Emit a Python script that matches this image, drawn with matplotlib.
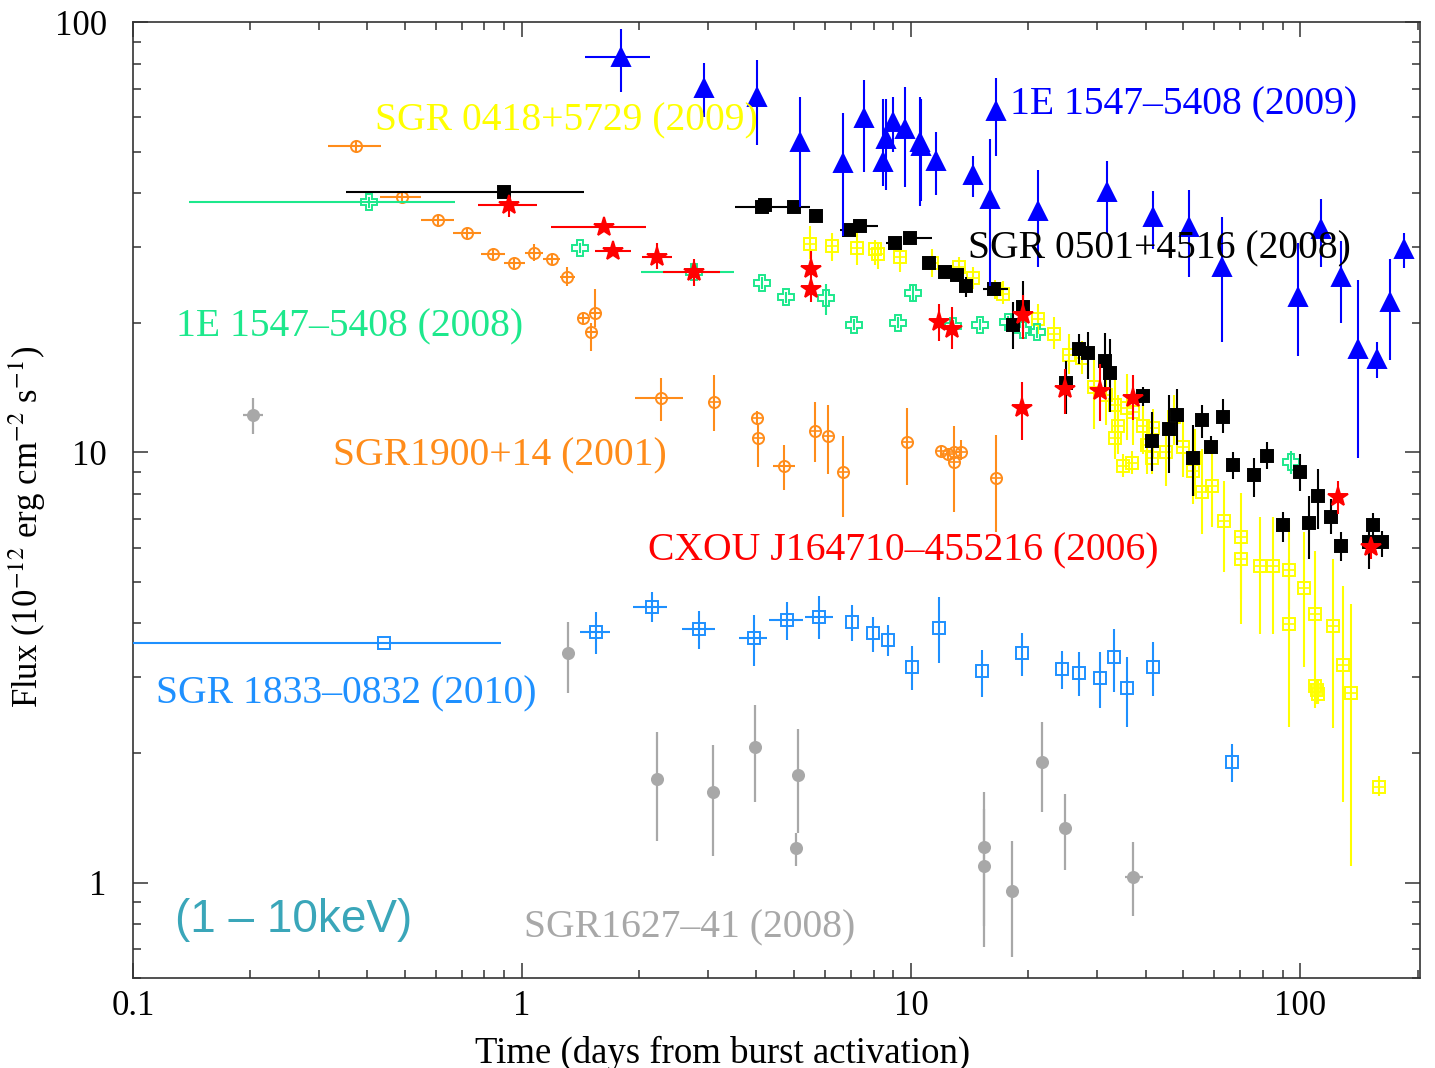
import numpy as np
import matplotlib
matplotlib.use("Agg")
import matplotlib.pyplot as plt
from matplotlib.ticker import LogLocator, NullFormatter, FuncFormatter

plt.rcParams["font.family"] = ["Liberation Serif", "DejaVu Serif"]
plt.rcParams["mathtext.fontset"] = "stix"

# SGR1900+14 (2001), orange
ox = [0.375, 0.49, 0.608, 0.722, 0.842, 0.954, 1.07, 1.19, 1.305, 1.43, 1.54, 1.50, 2.28, 3.12,
      4.02, 4.04, 4.72, 5.66, 6.12, 6.69, 9.77, 11.9, 12.4, 12.9, 12.9, 13.4, 16.5]
oy = [51.4, 39.1, 34.6, 32.3, 28.9, 27.5, 29.1, 28.1, 25.6, 20.5, 21.1, 19.0, 13.4, 13.1,
      12.0, 10.8, 9.28, 11.2, 10.9, 8.99, 10.55, 10.05, 9.9, 10.0, 9.48, 10.0, 8.70]
oy_lo = [50.0, 38.2, 33.8, 31.5, 28.2, 26.8, 27.8, 27.3, 24.3, 19.8, 19.5, 17.2, 11.8, 11.2,
         11.6, 9.23, 8.16, 9.48, 8.89, 7.06, 8.38, 9.8, 9.65, 9.75, 7.25, 9.6, 6.52]
oy_hi = [52.8, 40.0, 35.4, 33.1, 29.6, 28.2, 30.4, 28.9, 26.9, 21.2, 23.9, 20.0, 14.9, 15.1,
         12.5, 11.6, 10.4, 13.1, 12.9, 10.9, 12.7, 10.3, 10.15, 10.25, 11.5, 10.7, 10.95]
ox_lo = [0.317, 0.431, 0.55, 0.665, 0.784, 0.899, 1.018, 1.132, 1.25, 1.38, 1.49, 1.45, 1.95, 3.12,
         4.02, 4.04, 4.42, 5.66, 6.12, 6.69, 9.77, 11.9, 12.4, 12.9, 12.9, 13.4, 16.5]
ox_hi = [0.434, 0.55, 0.668, 0.784, 0.904, 1.018, 1.132, 1.25, 1.37, 1.48, 1.60, 1.56, 2.59, 3.12,
         4.02, 4.04, 5.03, 5.66, 6.12, 6.69, 9.77, 11.9, 12.4, 12.9, 12.9, 13.4, 16.5]

# CXOU J164710-455216 (2006), red
rx = [0.926, 1.62, 1.71, 2.22, 2.77, 5.53, 5.53, 11.8, 12.7, 19.4, 19.3, 24.9, 30.6, 37.2, 125, 152]
ry = [37.5, 33.3, 29.3, 28.5, 26.3, 26.6, 24.0, 20.1, 19.3, 20.8, 12.7, 14.0, 13.9, 13.4, 7.86, 6.02]
ry_lo = [35.2, 32.5, 28.6, 26.6, 24.3, 25.2, 22.4, 18.1, 17.4, 18.3, 10.7, 12.3, 11.8, 11.9, 7.18, 5.64]
ry_hi = [39.5, 34.1, 30.0, 30.6, 28.1, 29.3, 25.2, 22.1, 21.8, 23.2, 14.6, 15.6, 16.0, 15.1, 8.56, 6.25]
rx_lo = [0.771, 1.187, 1.54, 2.03, 2.30, 5.53, 5.53, 11.8, 12.7, 19.4, 19.3, 24.9, 30.6, 37.2, 125, 152]
rx_hi = [1.093, 2.08, 1.90, 2.43, 3.23, 5.53, 5.53, 11.8, 12.7, 19.4, 19.3, 24.9, 30.6, 37.2, 125, 152]

# 1E 1547-5408 (2008), green
gx = [0.404, 1.41, 2.77, 4.14, 4.77, 6.05, 7.14, 9.26, 10.1, 12.8, 15.0, 17.7, 19.4, 21.1, 94.3]
gy = [38.1, 29.8, 26.3, 24.8, 22.9, 22.8, 19.8, 20.0, 23.5, 19.7, 19.8, 20.1, 19.2, 19.0, 9.48]
gy_lo = [37.0, 29.0, 25.5, 24.0, 22.2, 20.9, 19.2, 19.4, 22.3, 19.1, 19.2, 19.5, 18.6, 18.4, 8.89]
gy_hi = [39.2, 30.6, 27.1, 25.6, 23.6, 24.6, 20.4, 20.6, 24.6, 20.3, 20.4, 20.7, 19.8, 19.6, 10.05]
gx_lo = [0.139, 1.41, 2.02, 4.14, 4.77, 6.05, 7.14, 9.26, 10.1, 12.8, 15.0, 17.7, 19.4, 21.1, 94.3]
gx_hi = [0.673, 1.41, 3.51, 4.14, 4.77, 6.05, 7.14, 9.26, 10.1, 12.8, 15.0, 17.7, 19.4, 21.1, 94.3]

# SGR 0501+4516 (2008), black
bx = [0.899, 4.14, 4.21, 5.0, 5.70, 6.93, 7.39, 9.10, 9.94, 11.1, 12.2, 13.1, 13.8, 16.3, 18.3,
      19.4, 25.0, 27.0, 28.5, 31.5, 32.5, 39.3, 41.6, 46.0, 48.3, 53.1, 56.0, 59.0, 63.4, 67.3,
      76.2, 82.3, 90.4, 100, 105, 111, 120, 127, 150, 154, 162]
by = [40.2, 37.1, 37.5, 37.1, 35.5, 32.8, 33.5, 30.7, 31.4, 27.5, 26.3, 25.8, 24.3, 24.0, 19.8,
      21.7, 14.5, 17.4, 17.0, 16.3, 15.3, 13.5, 10.6, 11.3, 12.2, 9.7, 11.9, 10.3, 12.1, 9.33,
      8.85, 9.79, 6.77, 8.99, 6.84, 7.90, 7.06, 6.05, 6.18, 6.77, 6.18]
by_lo = [40.2, 37.1, 37.5, 37.1, 35.5, 32.8, 33.5, 30.7, 31.4, 27.0, 25.8, 25.2, 23.0, 23.4, 17.4,
         19.3, 12.3, 16.0, 14.8, 13.9, 12.4, 12.8, 9.03, 8.94, 10.4, 7.90, 10.8, 9.9, 11.1, 8.66,
         7.86, 9.13, 6.18, 8.12, 5.64, 6.63, 6.45, 5.59, 5.35, 6.13, 5.70]
by_hi = [40.2, 37.1, 37.5, 37.1, 35.5, 32.8, 33.5, 30.7, 31.4, 28.0, 26.8, 26.4, 25.5, 24.6, 22.3,
         25.0, 16.3, 18.8, 19.0, 18.9, 18.3, 14.2, 12.4, 13.6, 14.0, 11.6, 12.9, 10.9, 13.3, 10.0,
         9.7, 10.55, 7.28, 9.9, 7.90, 9.13, 7.78, 6.52, 6.91, 7.21, 6.56]
bx_lo = [0.353, 3.53, 4.21, 4.52, 5.70, 6.57, 7.10, 8.62, 9.94, 11.1, 12.2, 13.1, 13.8, 15.3, 18.3,
         19.4, 25.0, 27.0, 28.5, 31.5, 32.5, 39.3, 41.6, 46.0, 48.3, 53.1, 56.0, 59.0, 63.4, 67.3,
         76.2, 82.3, 90.4, 100, 105, 111, 120, 127, 150, 154, 162]
bx_hi = [1.44, 4.52, 4.21, 5.50, 5.70, 7.10, 8.23, 9.10, 11.3, 11.1, 12.2, 13.1, 13.8, 17.7, 18.3,
         19.4, 25.0, 27.0, 28.5, 31.5, 32.5, 39.3, 41.6, 46.0, 48.3, 53.1, 56.0, 59.0, 63.4, 67.3,
         76.2, 82.3, 90.4, 100, 105, 111, 120, 127, 150, 154, 162]

# 1E 1547-5408 (2009), blue
ux = [1.79, 2.94, 4.02, 5.18, 6.69, 7.57, 8.47, 8.62, 8.99, 9.65, 10.5, 10.6, 11.6, 14.4, 15.9,
      16.5, 21.2, 31.9, 41.9, 51.8, 62.7, 98.8, 113, 127, 141, 157, 170, 185]
uy = [82.7, 70.1, 66.8, 52.5, 46.9, 59.7, 47.2, 53.6, 58.7, 56.3, 52.5, 51.4, 47.4, 44.2, 38.7,
      62.0, 36.3, 40.2, 35.2, 33.3, 26.9, 23.0, 33.1, 25.5, 17.4, 16.5, 22.3, 29.6]
uy_lo = [68.6, 60.3, 51.9, 37.1, 31.8, 44.7, 41.5, 40.8, 49.8, 41.3, 37.3, 38.3, 39.7, 39.1, 24.3,
         48.7, 26.9, 32.4, 29.6, 25.6, 18.0, 16.7, 26.9, 20.0, 9.7, 14.9, 16.4, 26.8]
uy_hi = [96.1, 80.5, 81.8, 67.1, 61.3, 73.5, 66.1, 66.1, 67.1, 70.5, 66.8, 66.1, 55.4, 48.7, 53.4,
         74.3, 45.4, 47.4, 40.4, 40.6, 35.2, 30.7, 38.7, 30.9, 25.2, 18.0, 28.1, 32.4]
ux_lo = [1.45] + ux[1:]
ux_hi = [2.13] + ux[1:]

# SGR 0418+5729 (2009), yellow
yx = [5.50, 6.26, 7.26, 8.08, 8.21, 9.37, 11.3, 13.3, 14.4, 16.4, 17.2, 21.2, 23.2, 25.5, 27.5,
      29.4, 31.7, 33.4, 34.0, 33.4, 34.9, 37.0, 35.9, 37.2, 39.5, 41.9, 40.4, 41.5, 45.2, 47.2,
      50.0, 53.7, 53.1, 56.0, 59.4, 63.8, 70.5, 70.5, 78.5, 85.2, 93.2, 93.2, 102, 109, 121,
      129, 109, 110, 111, 135, 159]
yy = [30.4, 30.1, 29.9, 29.6, 28.9, 28.4, 27.6, 27.0, 25.4, 24.0, 23.3, 20.4, 18.8, 16.8, 16.6,
      14.2, 13.6, 12.9, 11.5, 10.8, 9.28, 9.43, 12.7, 12.4, 11.5, 11.4, 10.4, 9.7, 10.0, 12.1,
      10.3, 9.7, 9.03, 8.07, 8.34, 6.91, 6.35, 5.64, 5.44, 5.44, 5.32, 3.98, 4.83, 4.21, 3.95,
      3.20, 2.86, 2.80, 2.74, 2.76, 1.67]
yy_lo = [28.1, 27.8, 27.3, 27.3, 26.6, 26.3, 25.6, 25.2, 23.9, 22.7, 22.1, 18.8, 17.4, 15.2, 15.2,
         11.3, 11.6, 10.7, 9.9, 9.63, 8.75, 8.89, 10.7, 10.4, 9.9, 9.7, 8.89, 8.89, 8.34, 10.4,
         8.75, 7.90, 7.57, 6.45, 6.70, 5.27, 3.98, 4.56, 3.78, 3.78, 4.32, 2.30, 3.17, 2.54, 2.29,
         1.54, 2.60, 2.60, 2.60, 1.09, 1.59]
yy_hi = [33.5, 32.4, 32.6, 31.2, 30.7, 29.9, 29.6, 28.4, 26.9, 25.2, 24.96, 22.1, 20.6, 18.8, 18.1,
         17.4, 16.0, 14.8, 13.6, 12.6, 9.9, 10.05, 15.2, 14.8, 12.9, 12.6, 11.9, 10.7, 11.3, 13.6,
         11.9, 11.3, 10.7, 10.15, 10.7, 8.56, 8.03, 6.63, 7.06, 7.09, 6.95, 5.64, 6.52, 5.89, 5.64,
         4.88, 2.97, 2.97, 2.97, 4.44, 1.77]

# SGR 1833-0832 (2010), light blue
lx = [0.442, 1.55, 2.15, 2.85, 3.95, 4.80, 5.80, 7.05, 7.99, 8.73, 10.06, 11.8, 15.2, 19.3, 24.4,
      26.9, 30.6, 33.1, 35.9, 41.9, 66.9]
ly = [3.60, 3.82, 4.37, 3.88, 3.70, 4.07, 4.14, 4.03, 3.80, 3.66, 3.17, 3.90, 3.10, 3.41, 3.13,
      3.07, 2.99, 3.34, 2.83, 3.17, 1.91]
ly_lo = [3.60, 3.40, 4.03, 3.49, 3.18, 3.66, 3.68, 3.64, 3.43, 3.36, 2.80, 3.24, 2.70, 3.02, 2.82,
         2.71, 2.54, 2.77, 2.30, 2.71, 1.71]
ly_hi = [3.60, 4.25, 4.73, 4.27, 4.18, 4.48, 4.63, 4.41, 4.14, 3.96, 3.54, 4.60, 3.47, 3.80, 3.45,
         3.43, 3.43, 3.88, 3.34, 3.62, 2.10]
lx_lo = [0.1, 1.41, 1.93, 2.58, 3.61, 4.31, 5.34] + lx[7:]
lx_hi = [0.883, 1.68, 2.36, 3.13, 4.26, 5.28, 6.30] + lx[7:]

# SGR1627-41 (2008), grey
kx = [0.203, 1.31, 2.22, 3.10, 3.97, 5.12, 5.06, 15.4, 15.4, 18.2, 21.7, 24.9, 37.2]
ky = [12.2, 3.41, 1.74, 1.62, 2.06, 1.78, 1.20, 1.21, 1.09, 0.958, 1.91, 1.34, 1.03]
ky_lo = [11.0, 2.76, 1.25, 1.15, 1.54, 1.30, 1.09, 0.792, 0.710, 0.671, 1.46, 1.07, 0.836]
ky_hi = [13.4, 4.03, 2.24, 2.09, 2.58, 2.27, 1.30, 1.62, 1.48, 1.25, 2.36, 1.61, 1.24]
kx_lo = [0.192, 1.31, 2.16, 3.10, 3.97, 5.12, 4.91, 15.4, 15.4, 18.2, 21.7, 24.9, 35.5]
kx_hi = [0.216, 1.31, 2.29, 3.10, 3.97, 5.12, 5.21, 15.4, 15.4, 18.2, 21.7, 24.9, 39.3]


def errs(v, lo, hi):
    v, lo, hi = np.asarray(v), np.asarray(lo), np.asarray(hi)
    return np.vstack([v - lo, hi - v])


fig = plt.figure(figsize=(14.35, 10.68), dpi=100)
ax = fig.add_axes([0.0927, 0.0843, 0.8969, 0.8951])


def series(x, y, xlo, xhi, ylo, yhi, color, marker, ms, hollow=False, cross=False,
           lw=1.5, z=2):
    ax.errorbar(x, y, xerr=errs(x, xlo, xhi), yerr=errs(y, ylo, yhi), fmt=marker,
                color=color, ecolor=color, ms=ms,
                mfc="none" if hollow else color, mec=color, mew=1.4,
                elinewidth=lw, capsize=0, zorder=z)
    if cross:
        ax.plot(x, y, "+", color=color, ms=ms * 0.9, mew=1.2, zorder=z)


series(kx, ky, kx_lo, kx_hi, ky_lo, ky_hi, "#a8a8a8", "o", 8, lw=1.6, z=2)
series(lx, ly, lx_lo, lx_hi, ly_lo, ly_hi, "#1e90ff", "s", 9, hollow=True, z=3)
series(ox, oy, ox_lo, ox_hi, oy_lo, oy_hi, "#ff8c1a", "o", 8, hollow=True, cross=True, z=3)
series(yx, yy, yx, yx, yy_lo, yy_hi, "#ffff00", "s", 8, hollow=True, cross=True, z=4)
series(gx, gy, gx_lo, gx_hi, gy_lo, gy_hi, "#1de88c", "P", 11, hollow=True, z=5)
series(bx, by, bx_lo, bx_hi, by_lo, by_hi, "black", "s", 8, z=6)
series(rx, ry, rx_lo, rx_hi, ry_lo, ry_hi, "#ff0000", "*", 15, z=7)
series(ux, uy, ux_lo, ux_hi, uy_lo, uy_hi, "#0000ff", "^", 13, z=8)

ax.set_xscale("log")
ax.set_yscale("log")
ax.set_xlim(0.1, 203)
ax.set_ylim(0.6, 100)

fmt = FuncFormatter(lambda v, _: f"{v:g}")
for axis in (ax.xaxis, ax.yaxis):
    axis.set_major_locator(LogLocator(base=10, numticks=10))
    axis.set_minor_locator(LogLocator(base=10, subs=np.arange(2, 10), numticks=30))
    axis.set_major_formatter(fmt)
    axis.set_minor_formatter(NullFormatter())

ax.tick_params(which="both", direction="in", top=True, right=True, width=1.1, color="#333333")
ax.tick_params(which="major", length=11, labelsize=25)
ax.tick_params(which="minor", length=5.5)
ax.tick_params(axis="x", pad=9)
ax.tick_params(axis="y", pad=19)
for sp in ax.spines.values():
    sp.set_linewidth(1.2)
    sp.set_color("#333333")

ax.set_xlabel("Time (days from burst activation)", fontsize=26.5)
ax.set_ylabel("Flux (10$^{-12}$ erg cm$^{-2}$ s$^{-1}$)", fontsize=25)
ax.xaxis.set_label_coords(0.4584, -0.060)
ax.yaxis.set_label_coords(-0.066, 0.472)

labels = [
    (0.419, 58.9, "SGR 0418+5729 (2009)", "#ffff00"),
    (17.97, 64.2, "1E 1547\u20135408 (2009)", "#0000ff"),
    (14.0, 29.7, "SGR 0501+4516 (2008)", "black"),
    (0.129, 19.6, "1E 1547\u20135408 (2008)", "#1de88c"),
    (0.327, 9.8, "SGR1900+14 (2001)", "#ff8c1a"),
    (2.11, 5.9, "CXOU J164710\u2013455216 (2006)", "#ff0000"),
    (0.1147, 2.75, "SGR 1833\u20130832 (2010)", "#1e90ff"),
    (1.012, 0.786, "SGR1627\u201341 (2008)", "#a8a8a8"),
]
for x, y, s, c in labels:
    ax.text(x, y, s, color=c, fontsize=28.5, ha="left", va="center", zorder=10)

ax.text(0.128, 0.818, "(1 \u2013 10keV)", color="#3aa6b9", fontsize=33, ha="left", va="center",
        family=["Liberation Sans", "DejaVu Sans"], zorder=10)

fig.savefig("out.png", dpi=100)
